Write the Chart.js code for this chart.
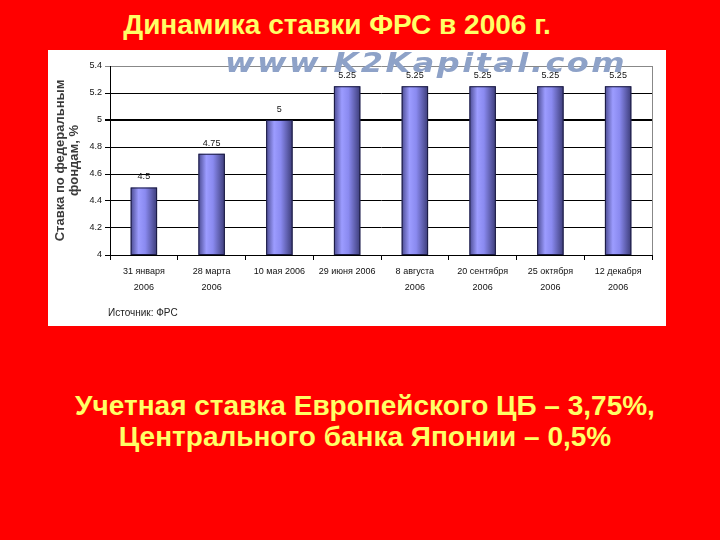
<!DOCTYPE html>
<html>
<head>
<meta charset="utf-8">
<script src="https://cdn.jsdelivr.net/npm/chart.js@4/dist/chart.umd.min.js"></script>
<style>
  html, body { margin: 0; padding: 0; }
  body { width: 720px; height: 540px; background: #ff0000; position: relative; overflow: hidden; font-family: "Liberation Sans", Arial, sans-serif; }
  .title { position: absolute; left: 0; width: 674px; top: 9px; text-align: center; color: #ffff66; font-weight: bold; font-size: 28px; line-height: 32px; }
  .panel { position: absolute; left: 48px; top: 50px; width: 618px; height: 276px; background: #fff; }
  .mark { position: absolute; left: 177px; top: -2px; color: #8ea2c8; font: italic 900 26px "DejaVu Sans", sans-serif; letter-spacing: 2px; transform-origin: 0 0; transform: scaleX(1.23); pointer-events: none; white-space: nowrap; }
  .source { position: absolute; left: 60px; top: 257px; font-size: 10px; color: #222; }
  .note { position: absolute; left: 0; width: 730px; top: 390px; text-align: center; color: #ffff66; font-weight: bold; font-size: 28px; line-height: 31px; }
</style>
</head>
<body>
<div class="title">Динамика ставки ФРС в 2006 г.</div>
<div class="panel">
  <canvas id="chart" width="618" height="276"></canvas>
  <div class="mark">www.K2Kapital.com</div>
  <div class="source">Источник: ФРС</div>
</div>
<div class="note">Учетная ставка Европейского ЦБ – 3,75%,<br>Центрального банка Японии – 0,5%</div>
<script>
// data
const dates = [
  ["31 января", "2006"], ["28 марта", "2006"], "10 мая 2006", "29 июня 2006",
  ["8 августа", "2006"], ["20 сентября", "2006"], ["25 октября", "2006"], ["12 декабря", "2006"]
];
const rates = [4.5, 4.75, 5, 5.25, 5.25, 5.25, 5.25, 5.25];
const rateLabels = ["4.5", "4.75", "5", "5.25", "5.25", "5.25", "5.25", "5.25"];
const yTickLabels = ["4", "4.2", "4.4", "4.6", "4.8", "5", "5.2", "5.4"];
const yTitle = ["Ставка по федеральным", "фондам, %"];

// gradient bars + value labels + right border of plot area
const barStyle = {
  id: "barStyle",
  afterDatasetsDraw(chart) {
    const c = chart.ctx;
    const a = chart.chartArea;
    const meta = chart.getDatasetMeta(0);
    c.save();
    meta.data.forEach((bar, i) => {
      const left = bar.x - bar.width / 2;
      const bottom = Math.min(bar.base, a.bottom);
      const g = c.createLinearGradient(left, 0, left + bar.width, 0);
      g.addColorStop(0, "#4a4a90");
      g.addColorStop(0.3, "#9c9cff");
      g.addColorStop(0.55, "#8a8af0");
      g.addColorStop(1, "#3c3c78");
      c.fillStyle = g;
      c.fillRect(left, bar.y, bar.width, bottom - bar.y);
      c.strokeStyle = "#1a1a40";
      c.lineWidth = 1;
      c.strokeRect(left + 0.5, bar.y + 0.5, bar.width - 1, bottom - bar.y - 1);
      c.fillStyle = "#111";
      c.font = "9px 'Liberation Sans', Arial, sans-serif";
      c.textAlign = "center";
      c.textBaseline = "bottom";
      c.fillText(rateLabels[i], bar.x, bar.y - 6);
    });
    c.strokeStyle = "#888";
    c.beginPath();
    c.moveTo(Math.round(a.right) + 0.5, a.top);
    c.lineTo(Math.round(a.right) + 0.5, a.bottom);
    c.stroke();
    c.restore();
  }
};

new Chart(document.getElementById("chart"), {
  type: "bar",
  data: {
    labels: dates,
    datasets: [{
      data: rates,
      backgroundColor: "rgba(0,0,0,0)",
      borderWidth: 0,
      categoryPercentage: 1,
      barPercentage: 0.39
    }]
  },
  options: {
    responsive: false,
    animation: false,
    layout: { padding: { top: 16, right: 14, left: 0, bottom: 0 } },
    plugins: { legend: { display: false }, tooltip: { enabled: false } },
    scales: {
      x: {
        afterFit: (s) => { s.height = 71; },
        grid: { drawOnChartArea: false, color: "#000", tickLength: 5 },
        border: { color: "#000" },
        ticks: {
          color: "#111", maxRotation: 0, autoSkip: false, padding: 3,
          font: { family: "'Liberation Sans', Arial, sans-serif", size: 9, lineHeight: 1.85 }
        }
      },
      y: {
        min: 4, max: 5.4,
        afterFit: (s) => { s.width = 62; },
        border: { color: "#000" },
        grid: {
          tickLength: 5,
          color: (ctx) => ctx.tick && ctx.tick.value >= 5.4 ? "#888" : "#000",
          lineWidth: (ctx) => ctx.tick && Math.abs(ctx.tick.value - 5) < 1e-6 ? 2 : 1
        },
        ticks: {
          stepSize: 0.2, color: "#111", padding: 3,
          font: { family: "'Liberation Sans', Arial, sans-serif", size: 9 },
          callback: (v, i) => yTickLabels[i]
        },
        title: {
          display: true, text: yTitle, color: "#3a3a3a",
          font: { family: "'Liberation Sans', Arial, sans-serif", size: 13, weight: "bold", lineHeight: 1.05 },
          padding: { top: 6, bottom: 0 }
        }
      }
    }
  },
  plugins: [barStyle]
});
</script>
</body>
</html>
